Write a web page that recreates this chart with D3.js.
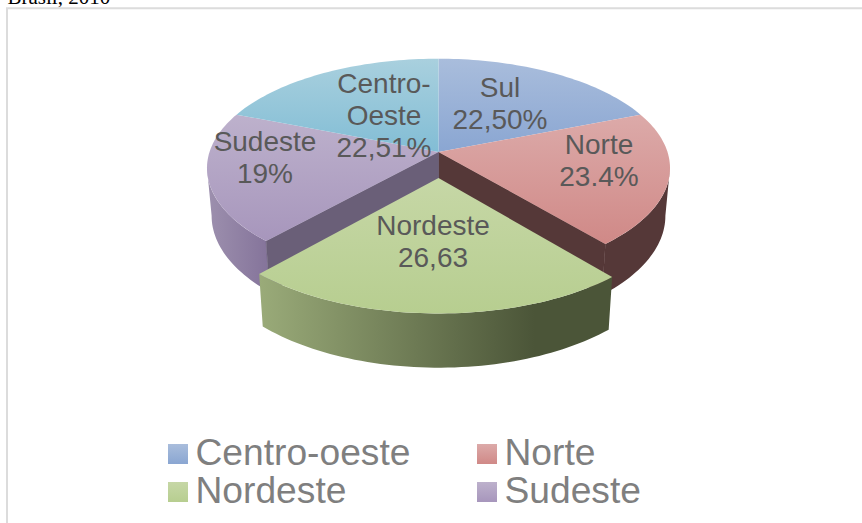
<!DOCTYPE html>
<html>
<head>
<meta charset="utf-8">
<script src="https://cdnjs.cloudflare.com/ajax/libs/d3/7.8.5/d3.min.js"></script>
<style>
  html, body { margin: 0; padding: 0; background: #fff; overflow: hidden; }
</style>
</head>
<body>
<div id="chart"></div>
<script>
// shares are what the slices measure on the picture, the printed labels say otherwise
const regions = ["Sul", "Norte", "Nordeste", "Sudeste", "Centro-Oeste"];
const shares = [19, 19.8, 22.9, 19.3, 19];
const sliceLabels = [
  ["Sul", "22,50%"],
  ["Norte", "23.4%"],
  ["Nordeste", "26,63"],
  ["Sudeste", "19%"],
  ["Centro-", "Oeste", "22,51%"]
];
const legendLabels = ["Centro-oeste", "Norte", "Nordeste", "Sudeste"];
const titleText = "Brasil, 2010";

const width = 862, height = 523;
const cx = 438.5, cy = 152;
const R = 229, A = 107, k = 0.147;   // disk radius, tilt, perspective
const depth = 48, shrink = 0.02;     // thickness of the pie
const explode = 0.235;               // Nordeste pulled towards the viewer
const silhouette = Math.acos(-k);    // where the rim turns away from the viewer

const topColors = {
  Sul: ["#a9bddc", "#8aa6d2"],
  Norte: ["#dcaaa9", "#d08987"],
  Nordeste: ["#c6d7a6", "#b7ce90"],
  Sudeste: ["#bdb1cc", "#a796bc"],
  "Centro-Oeste": ["#a9d0de", "#82bdd5"]
};
const wallColors = {
  Norte: ["#553838", "#553838"],
  Nordeste: ["#9aab79", "#4b5538"],
  Sudeste: ["#9d90ae", "#84739a"]
};
const cutColors = { Norte: "#553838", Sudeste: "#6a5f78" };
const legendColors = [["#a9bddc", "#8aa6d2"], ["#dcaaa9", "#d08987"], ["#c6d7a6", "#b7ce90"], ["#bdb1cc", "#a796bc"]];

// unit disk point -> screen, layer 0 is the top face and 1 the bottom one
function project(ux, uz, layer) {
  let p = (1 / (1 + k * uz)) * (1 - shrink * layer);
  return [cx + R * ux * p, cy + (-A * uz + depth * layer) * p];
}

function rimPoint(angle, offset, layer) {
  return project(Math.sin(angle), Math.cos(angle) - offset, layer);
}

function arcPoints(a0, a1, offset, layer) {
  let n = Math.max(2, Math.ceil((a1 - a0) * 40));
  return d3.range(n + 1).map(i => rimPoint(a0 + (a1 - a0) * i / n, offset, layer));
}

const svg = d3.select("#chart").append("svg")
  .attr("width", width)
  .attr("height", height)
  .style("display", "block")
  .style("font-family", "'Liberation Sans', Arial, sans-serif");

const defs = svg.append("defs");
const line = d3.line();

function gradient(id, colors, x1, y1, x2, y2) {
  let g = defs.append("linearGradient").attr("id", id)
    .attr("gradientUnits", "userSpaceOnUse")
    .attr("x1", x1).attr("y1", y1).attr("x2", x2).attr("y2", y2);
  g.append("stop").attr("offset", 0).attr("stop-color", colors[0]);
  g.append("stop").attr("offset", 1).attr("stop-color", colors[1]);
}

// frame and the clipped caption above it
svg.append("text")
  .attr("x", 7.5).attr("y", 4)
  .attr("font-family", "'Liberation Serif', 'Times New Roman', serif")
  .attr("font-size", 21)
  .attr("fill", "#000")
  .text(titleText);
svg.append("path")
  .attr("d", "M7,523V8.2H862")
  .attr("fill", "none")
  .attr("stroke", "#dcdcdc")
  .attr("stroke-width", 2);

const arcs = d3.pie().sort(null).value(d => d)(shares);
const slices = arcs.map((d, i) => ({
  name: regions[i],
  a0: d.startAngle,
  a1: d.endAngle,
  offset: regions[i] === "Nordeste" ? explode : 0,
  label: sliceLabels[i]
}));

function drawWall(g, s) {
  if (!wallColors[s.name]) return;
  // only the part of the rim that faces the viewer
  let a0 = Math.max(s.a0, silhouette), a1 = Math.min(s.a1, 2 * Math.PI - silhouette);
  let top = arcPoints(a0, a1, s.offset, 0);
  let bottom = arcPoints(a0, a1, s.offset, 1).reverse();
  let xs = top.concat(bottom).map(d => d[0]);
  let id = "wall-" + s.name;
  gradient(id, wallColors[s.name], d3.min(xs), 0, d3.max(xs), 0);
  if (s.name === "Nordeste") {
    // runs left to right across the front, darkest from about the right third on
    defs.select("#" + id).attr("x2", d3.min(xs) + (d3.max(xs) - d3.min(xs)) * 0.78);
  }
  g.append("path").attr("d", line(top.concat(bottom)) + "Z").attr("fill", "url(#" + id + ")");
}

function drawCut(g, s, angle) {
  let apexTop = project(0, -s.offset, 0), apexBottom = project(0, -s.offset, 1);
  let rimTop = rimPoint(angle, s.offset, 0), rimBottom = rimPoint(angle, s.offset, 1);
  g.append("path")
    .attr("d", line([apexTop, rimTop, rimBottom, apexBottom]) + "Z")
    .attr("fill", cutColors[s.name])
    .attr("stroke", cutColors[s.name])
    .attr("stroke-width", 0.6);
}

function drawTop(g, s) {
  let pts = [project(0, -s.offset, 0)].concat(arcPoints(s.a0, s.a1, s.offset, 0));
  let ys = pts.map(d => d[1]);
  let id = "top-" + s.name;
  gradient(id, topColors[s.name], 0, d3.min(ys), 0, d3.max(ys));
  g.append("path").attr("d", line(pts) + "Z").attr("fill", "url(#" + id + ")");
}

const pieG = svg.append("g");
const rest = slices.filter(s => s.offset === 0);
const front = slices.filter(s => s.offset > 0);

rest.forEach(s => drawWall(pieG, s));
rest.forEach(s => {
  if (s.name === "Norte") drawCut(pieG, s, s.a1);
  if (s.name === "Sudeste") drawCut(pieG, s, s.a0);
});
rest.forEach(s => drawTop(pieG, s));
front.forEach(s => { drawWall(pieG, s); drawTop(pieG, s); });

// data labels sit by hand on their slices, same as in the office chart
const labelAnchor = { Sul: [500, 97], Norte: [599, 154], Nordeste: [433, 235], Sudeste: [265, 151], "Centro-Oeste": [384, 92.5] };
const labelG = svg.append("g");
slices.forEach(s => {
  let t = labelG.append("text")
    .attr("text-anchor", "middle")
    .attr("font-size", 28)
    .attr("fill", "#595959");
  s.label.forEach((txt, j) => {
    t.append("tspan")
      .attr("x", labelAnchor[s.name][0])
      .attr("y", labelAnchor[s.name][1] + j * 32)
      .text(txt);
  });
});

// legend
const legendX = d3.scaleOrdinal().domain([0, 1]).range([168, 477]);
const legendY = d3.scaleOrdinal().domain([0, 1]).range([444, 482]);
const legend = svg.append("g");
legendLabels.forEach((txt, i) => {
  let x = legendX(i % 2), y = legendY(Math.floor(i / 2));
  gradient("legend-" + i, legendColors[i], 0, y, 0, y + 20);
  legend.append("rect")
    .attr("x", x).attr("y", y)
    .attr("width", 20).attr("height", 20)
    .attr("fill", "url(#legend-" + i + ")");
  legend.append("text")
    .attr("x", x + 27.5).attr("y", y + 21)
    .attr("font-size", 37.2)
    .attr("fill", "#7f7f7f")
    .text(txt);
});
</script>
</body>
</html>
